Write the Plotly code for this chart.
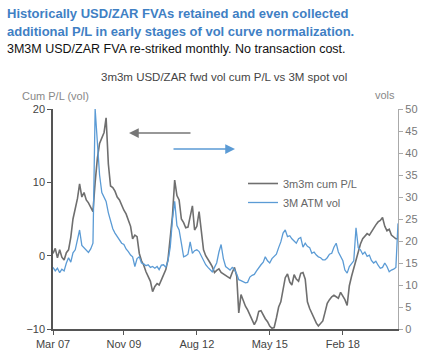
import plotly.graph_objects as go
import pandas as pd

# Monthly observations, Mar 2007 .. Mar 2020
dates = pd.date_range("2007-03-01", periods=157, freq="MS")

cum_pl = [
    0.3, 1.0, -0.3, 0.8, -0.2, -0.6, 0.4, 0.8, 2.5, 5.0,
    6.4, 7.8, 9.8, 8.0, 8.6, 7.6, 7.2, 6.6, 6.0, 10.0,
    13.3, 15.3, 16.0, 16.8, 18.8, 12.5, 9.5, 9.3, 8.8, 8.0,
    7.6, 6.8, 6.2, 5.7, 4.8, 4.0, 2.3, 2.8, 2.6, 0.3,
    -0.7, -1.3, -2.2, -2.8, -3.5, -4.9, -4.2, -3.8, -4.0, -3.3,
    -2.6, -1.9, -0.5, 2.5, 5.5, 10.3, 8.2, 7.6, 5.0, 4.5,
    3.8, 3.9, 5.2, 6.8, 3.5, 4.0, 6.0, 3.0, 0.8, 0.0,
    -0.6, -1.0, -1.5, -2.3, -2.0, -1.8, -2.3, -2.5, -2.7, -2.9,
    -3.1, -2.3, -1.6, -2.8, -7.8, -5.3, -6.2, -6.9, -7.4, -8.0,
    -8.6, -9.4, -8.8, -7.6, -7.5, -8.2, -8.6, -9.0, -9.6, -9.9,
    -9.8, -8.5, -7.0, -6.3, -4.5, -3.0, -2.5, -3.6, -4.0, -2.6,
    -3.2, -3.5, -2.4, -2.3, -3.2, -6.3, -7.2, -7.9, -8.5, -9.2,
    -9.6, -9.3, -8.9, -7.7, -6.5, -6.0, -5.6, -5.4, -5.6, -5.8,
    -5.0, -5.5, -6.0, -6.8, -4.1, -2.8, -1.7, -0.5, 0.6, 1.6,
    2.3, 2.6, 3.0, 2.8, 3.3, 3.7, 4.2, 4.6, 4.8, 5.2,
    4.0, 3.4, 3.6, 2.8, 2.5, 2.3, 2.3,
]

atm_vol = [
    14.0, 13.2, 13.8, 12.8, 13.6, 13.2, 15.0, 16.2, 15.2, 17.3,
    18.0, 20.5, 22.5, 19.0, 18.4, 17.8, 17.4, 18.2, 19.5, 50.0,
    41.0, 35.0, 31.0, 30.0, 29.0, 26.4, 24.5, 22.8, 21.8, 21.0,
    20.5, 19.5, 19.2, 18.2, 17.6, 16.8, 16.4, 14.2, 16.0, 16.4,
    15.0, 14.8, 14.4, 14.6, 14.0, 14.2, 13.8, 14.2, 13.5, 14.5,
    14.6, 14.0, 15.5, 18.6, 25.0, 29.0, 23.5, 22.5, 19.5, 16.4,
    16.6, 17.0, 19.8, 17.2, 17.8, 18.0, 17.6, 16.5, 15.3, 14.6,
    14.0, 13.4, 13.0, 14.0, 15.0, 17.5, 19.2, 16.0, 14.2, 13.8,
    13.4, 14.0, 13.5, 12.5, 11.2, 11.0, 10.8, 10.5, 10.6, 11.8,
    12.2, 12.4, 13.2, 14.0, 14.6, 15.2, 16.4, 15.5, 15.0, 16.0,
    16.5, 17.0, 18.5, 19.8, 21.8, 22.5, 21.0, 21.2, 20.5, 20.0,
    19.5, 20.5, 20.8, 18.6, 19.5, 18.8, 18.5, 17.2, 17.5, 16.8,
    16.4, 16.2, 15.7, 15.7, 16.2, 17.0, 17.2, 18.6, 19.5, 17.5,
    16.5, 15.5, 13.4, 12.7, 14.2, 15.0, 15.5, 23.0, 18.5, 18.0,
    17.0, 17.5, 16.5, 16.8, 15.6, 15.0, 15.4, 14.5, 13.8, 14.0,
    15.0, 14.2, 13.0, 13.4, 13.6, 14.0, 24.0,
]

tick_dates = ["2007-03-01", "2009-11-01", "2012-08-01", "2015-05-01", "2018-02-01"]
tick_labels = ["Mar 07", "Nov 09", "Aug 12", "May 15", "Feb 18"]
left_ticks = [-10, 0, 10, 20]
right_ticks = [0, 5, 10, 15, 20, 25, 30, 35, 40, 45, 50]

GRAY = "#6f6f6f"
BLUE = "#5b9bd5"
FONT = "Liberation Sans, Arial, sans-serif"

fig = go.Figure()
fig.add_trace(go.Scatter(x=dates, y=cum_pl, name="3m3m cum P/L", mode="lines",
                         line=dict(color=GRAY, width=1.6)))
fig.add_trace(go.Scatter(x=dates, y=atm_vol, name="3M ATM vol", mode="lines",
                         line=dict(color=BLUE, width=1.3), yaxis="y2"))

L, R, T, B = 53, 36, 109, 35
W, H = 434, 364
pw, ph = W - L - R, H - T - B


def px(x):
    return (x - L) / pw


def py(y):
    return (H - B - y) / ph


fig.update_layout(
    width=W, height=H,
    margin=dict(l=L, r=R, t=T, b=B),
    paper_bgcolor="white", plot_bgcolor="white",
    font=dict(family=FONT, size=11, color="#444"),
    showlegend=True,
    legend=dict(x=px(243), y=py(169), xanchor="left", yanchor="top",
                bgcolor="rgba(0,0,0,0)", font=dict(size=11, color="#666"),
                tracegroupgap=0, itemwidth=30),
    xaxis=dict(type="date", range=["2007-03-01", "2020-03-01"],
               tickvals=tick_dates, ticktext=tick_labels,
               showline=True, linecolor="#555", linewidth=1.5,
               ticks="outside", ticklen=4, tickcolor="#555",
               showgrid=False, zeroline=False,
               tickfont=dict(size=11, color="#444")),
    yaxis=dict(range=[-10, 20], tickvals=left_ticks,
               showline=True, linecolor="#555", linewidth=1.5,
               ticks="outside", ticklen=4, tickcolor="#555",
               showgrid=False, zeroline=False,
               tickfont=dict(size=11, color="#444")),
    yaxis2=dict(range=[0, 50], tickvals=right_ticks, overlaying="y", side="right",
                showline=True, linecolor="#aaa", linewidth=1.2,
                ticks="outside", ticklen=4, tickcolor="#aaa",
                showgrid=False, zeroline=False,
                tickfont=dict(size=11, color="#777")),
)

ann = [
    dict(text="<b>Historically USD/ZAR FVAs retained and even collected</b>",
         x=px(5), y=py(13), xanchor="left", yanchor="middle",
         font=dict(size=13, color="#3f80c4")),
    dict(text="<b>additional P/L in early stages of vol curve normalization.</b>",
         x=px(5), y=py(32), xanchor="left", yanchor="middle",
         font=dict(size=13, color="#3f80c4")),
    dict(text="3M3M USD/ZAR FVA re-striked monthly. No transaction cost.",
         x=px(5), y=py(49), xanchor="left", yanchor="middle",
         font=dict(size=12.5, color="#111")),
    dict(text="3m3m USD/ZAR fwd vol cum P/L vs 3M spot vol",
         x=px(224), y=py(77), xanchor="center", yanchor="middle",
         font=dict(size=11.5, color="#444")),
    dict(text="Cum P/L (vol)", x=px(20), y=py(96), xanchor="left", yanchor="middle",
         font=dict(size=11, color="#888")),
    dict(text="vols", x=px(397), y=py(95), xanchor="right", yanchor="middle",
         font=dict(size=11, color="#888")),
]
for a in ann:
    a.update(xref="paper", yref="paper", showarrow=False)

arrows = [
    dict(x=px(129), y=py(133), ax=63, ay=0, arrowcolor="#777"),
    dict(x=px(235), y=py(149), ax=-63, ay=0, arrowcolor=BLUE),
]
for a in arrows:
    a.update(xref="paper", yref="paper", text="", showarrow=True,
             arrowhead=2, arrowsize=1.3, arrowwidth=1.5, axref="pixel", ayref="pixel")

fig.update_layout(annotations=ann + arrows)
fig.write_html("out.html", config={"displayModeBar": False},
               post_script="document.body.style.margin='0';")
